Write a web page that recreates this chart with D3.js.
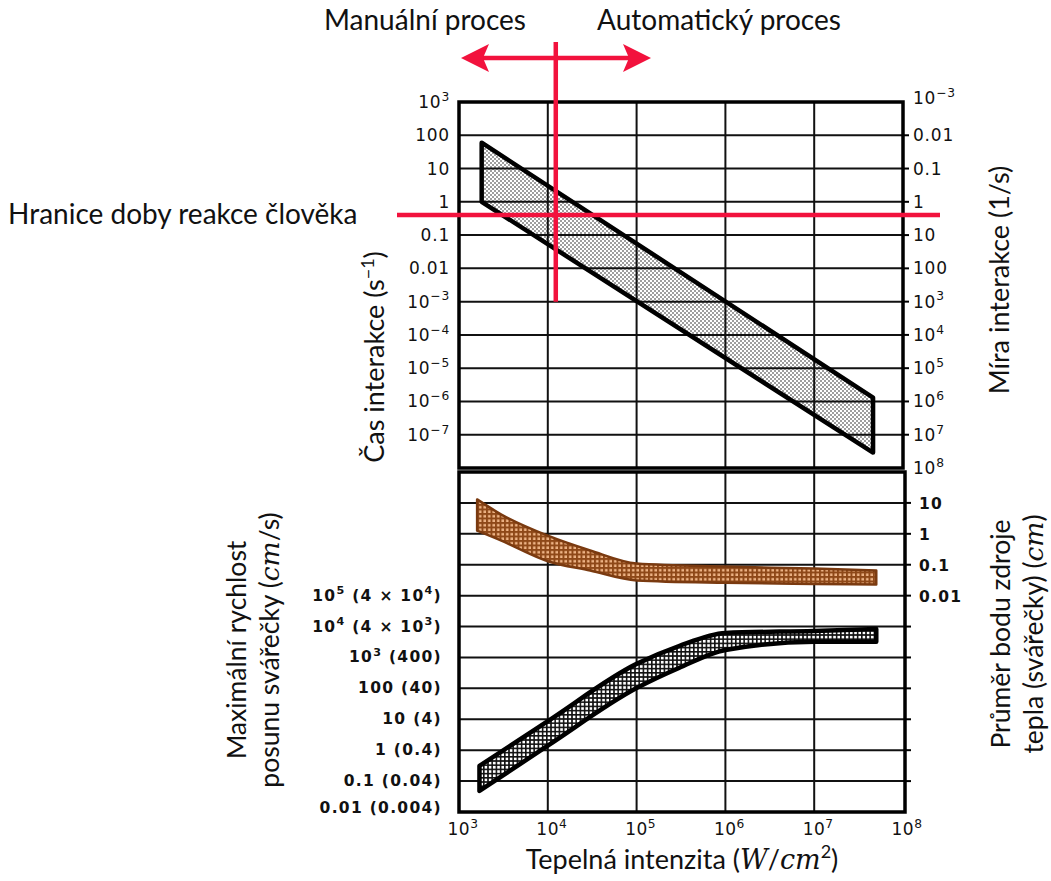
<!DOCTYPE html>
<html>
<head>
<meta charset="utf-8">
<script src="https://cdn.jsdelivr.net/npm/d3@7"></script>
<style>
  body { margin: 0; background: #fff; }
  svg { display: block; }
</style>
</head>
<body>
<svg id="chart" width="1051" height="881"></svg>
<script>
// values
const xDecades = [1e3, 1e4, 1e5, 1e6, 1e7, 1e8];
const xLabels = ["10^3", "10^4", "10^5", "10^6", "10^7", "10^8"];

const topLeftTicks = [1e3, 100, 10, 1, 0.1, 0.01, 1e-3, 1e-4, 1e-5, 1e-6, 1e-7];
const topLeftLabels = ["10^3", "100", "10", "1", "0.1", "0.01", "10^−3", "10^−4", "10^−5", "10^−6", "10^−7"];
const topRightTicks = [1e-3, 0.01, 0.1, 1, 10, 100, 1e3, 1e4, 1e5, 1e6, 1e7, 1e8];
const topRightLabels = ["10^−3", "0.01", "0.1", "1", "10", "100", "10^3", "10^4", "10^5", "10^6", "10^7", "10^8"];

const botLeftTicks = [1e5, 1e4, 1e3, 100, 10, 1, 0.1, 0.01];
const botLeftLabels = ["10^5 (4 × 10^4)", "10^4 (4 × 10^3)", "10^3 (400)", "100 (40)", "10 (4)", "1 (0.4)", "0.1 (0.04)", "0.01 (0.004)"];
const botRightTicks = [10, 1, 0.1, 0.01];
const botRightLabels = ["10", "1", "0.1", "0.01"];

// interaction time band (top panel)
const timeX = [1.8e3, 4.6e7];
const timeUpper = [60, 1.3e-6];
const timeLower = [1, 2.9e-8];

// heat source diameter band (bottom panel, right axis)
const diamX = [1.6e3, 3e3, 1e4, 3e4, 1e5, 1e6, 1e7, 5e7];
const diamUpper = [13, 4.2, 0.87, 0.29, 0.11, 0.087, 0.075, 0.065];
const diamLower = [1.26, 0.6, 0.13, 0.065, 0.031, 0.026, 0.024, 0.023];

// max travel speed band (bottom panel, left axis)
const speedX = [1.7e3, 1e4, 1e5, 3e5, 1e6, 1e7, 5e7];
const speedUpper = [0.31, 8.7, 620, 2340, 6200, 7200, 8300];
const speedLower = [0.048, 1.4, 102, 457, 1740, 3200, 3200];

// red annotations
const manualLimit = 1.23e4;   // W/cm2
const reactionTime = 0.4;     // s

const RED = "#f2123d";
const svg = d3.select("#chart");

const x = d3.scaleLog().domain([1e3, 1e8]).range([459, 903]);
const yTop = d3.scaleLog().domain([1e3, 1e-8]).range([102, 468]);
const yTopR = d3.scaleLog().domain([1e-3, 1e8]).range([102, 468]);
const yBot = d3.scaleLog().domain([1e9, 0.01]).range([472, 812]);
const yBotR = d3.scaleLog().domain([100, 1e-9]).range([472, 812]);

// text with ^superscripts
function richText(sel, str, fs) {
    const parts = str.split(/(\^[−\-]?\d+)/).filter(p => p !== "");
    let up = false;
    parts.forEach(p => {
        if (p[0] === "^") {
            sel.append("tspan").attr("dy", -0.42 * fs).attr("font-size", fs * 0.72).text(p.slice(1));
            up = true;
        } else {
            sel.append("tspan").attr("dy", up ? 0.42 * fs : null).text(p);
            up = false;
        }
    });
}

// patterns
const defs = svg.append("defs");
const dots = defs.append("pattern").attr("id", "dots")
    .attr("patternUnits", "userSpaceOnUse").attr("width", 4).attr("height", 4);
dots.append("rect").attr("width", 4).attr("height", 4).attr("fill", "#fff");
dots.append("circle").attr("cx", 1).attr("cy", 1).attr("r", 0.8).attr("fill", "#222");
dots.append("circle").attr("cx", 3).attr("cy", 3).attr("r", 0.8).attr("fill", "#222");

function hatch(id, bg, fg, w, s) {
    const p = defs.append("pattern").attr("id", id)
        .attr("patternUnits", "userSpaceOnUse").attr("width", s).attr("height", s);
    p.append("rect").attr("width", s).attr("height", s).attr("fill", bg);
    p.append("line").attr("x1", 0).attr("x2", s).attr("y1", w / 2).attr("y2", w / 2).attr("stroke", fg).attr("stroke-width", w);
    p.append("line").attr("y1", 0).attr("y2", s).attr("x1", w / 2).attr("x2", w / 2).attr("stroke", fg).attr("stroke-width", w);
}
hatch("brownHatch", "#eeb486", "#8e4818", 2, 4.5);
hatch("blackHatch", "#fff", "#111", 1.6, 4.2);

function band(xs, up, lo, xs_, ys, curve) {
    const upper = d3.line().curve(curve)(xs.map((v, i) => [xs_(v), ys(up[i])]));
    const lower = d3.line().curve(curve)(xs.map((v, i) => [xs_(v), ys(lo[i])]).reverse());
    // join the two edges with straight vertical ends
    return upper + "L" + lower.slice(1) + "Z";
}

// ---------- top panel ----------
const gTop = svg.append("g");
gTop.append("path")
    .attr("d", band(timeX, timeUpper, timeLower, x, yTop, d3.curveLinear))
    .attr("fill", "url(#dots)");

// grid
const gridTop = gTop.append("g").attr("stroke", "#111").attr("stroke-width", 2);
gridTop.selectAll("line.v").data(xDecades.slice(1, -1)).join("line")
    .attr("x1", d => x(d)).attr("x2", d => x(d)).attr("y1", 102).attr("y2", 468);
gridTop.selectAll("line.h").data(topLeftTicks.slice(1)).join("line")
    .attr("x1", 459).attr("x2", 903).attr("y1", d => yTop(d)).attr("y2", d => yTop(d));

gTop.append("path")
    .attr("d", band(timeX, timeUpper, timeLower, x, yTop, d3.curveLinear))
    .attr("fill", "none").attr("stroke", "#000").attr("stroke-width", 4.5).attr("stroke-linejoin", "round");

gTop.append("rect").attr("x", 459).attr("y", 102).attr("width", 444).attr("height", 366)
    .attr("fill", "none").attr("stroke", "#000").attr("stroke-width", 3.5);

// right axis ticks
gTop.selectAll("line.rt").data(topRightTicks.slice(1, -1)).join("line")
    .attr("x1", 903).attr("x2", 909).attr("y1", d => yTopR(d)).attr("y2", d => yTopR(d))
    .attr("stroke", "#000").attr("stroke-width", 2);

const tickFont = "'DejaVu Sans', sans-serif";
topLeftTicks.forEach((v, i) => {
    const t = svg.append("text").attr("x", 450).attr("y", yTop(v) + 6)
        .attr("text-anchor", "end").attr("font-family", tickFont).attr("font-size", 17)
        .attr("letter-spacing", 0.8).attr("fill", "#111");
    richText(t, topLeftLabels[i], 17);
});
topRightTicks.forEach((v, i) => {
    const t = svg.append("text").attr("x", 913).attr("y", yTopR(v) + (i === 0 ? 2 : 6))
        .attr("font-family", tickFont).attr("font-size", 17).attr("letter-spacing", 0.8).attr("fill", "#111");
    richText(t, topRightLabels[i], 17);
});

// ---------- bottom panel ----------
const gBot = svg.append("g");
const gridBot = gBot.append("g").attr("stroke", "#111").attr("stroke-width", 2);
gridBot.selectAll("line.v").data(xDecades.slice(1, -1)).join("line")
    .attr("x1", d => x(d)).attr("x2", d => x(d)).attr("y1", 472).attr("y2", 812);
gridBot.selectAll("line.h").data(d3.range(-1, 9).map(e => Math.pow(10, e))).join("line")
    .attr("x1", 459).attr("x2", 905).attr("y1", d => yBot(d)).attr("y2", d => yBot(d));

gBot.append("path")
    .attr("d", band(diamX, diamUpper, diamLower, x, yBotR, d3.curveMonotoneX))
    .attr("fill", "url(#brownHatch)").attr("stroke", "#7a3a10").attr("stroke-width", 2.5)
    .attr("stroke-linejoin", "round");
gBot.append("path")
    .attr("d", band(speedX, speedUpper, speedLower, x, yBot, d3.curveMonotoneX))
    .attr("fill", "url(#blackHatch)").attr("stroke", "#000").attr("stroke-width", 4.5)
    .attr("stroke-linejoin", "round");

gBot.append("rect").attr("x", 459).attr("y", 472).attr("width", 446).attr("height", 340)
    .attr("fill", "none").attr("stroke", "#000").attr("stroke-width", 3.5);
gBot.selectAll("line.rt").data(d3.range(-8, 2).map(e => Math.pow(10, e))).join("line")
    .attr("x1", 905).attr("x2", 911).attr("y1", d => yBotR(d)).attr("y2", d => yBotR(d))
    .attr("stroke", "#000").attr("stroke-width", 2);

botLeftTicks.forEach((v, i) => {
    const t = svg.append("text").attr("x", 442).attr("y", yBot(v) + 5 - (i === botLeftTicks.length - 1 ? 4 : 0))
        .attr("text-anchor", "end").attr("font-family", tickFont).attr("font-size", 15.5)
        .attr("font-weight", "bold").attr("letter-spacing", 1.3).attr("fill", "#111");
    richText(t, botLeftLabels[i], 15.5);
});
botRightTicks.forEach((v, i) => {
    const t = svg.append("text").attr("x", 919).attr("y", yBotR(v) + 6)
        .attr("font-family", tickFont).attr("font-size", 15.5).attr("font-weight", "bold")
        .attr("letter-spacing", 1.3).attr("fill", "#111");
    richText(t, botRightLabels[i], 15.5);
});
xDecades.forEach((v, i) => {
    const t = svg.append("text").attr("x", x(v) + 4).attr("y", 835)
        .attr("text-anchor", "middle").attr("font-family", tickFont).attr("font-size", 17)
        .attr("letter-spacing", 0.5).attr("fill", "#111");
    richText(t, xLabels[i], 17);
});

// ---------- titles ----------
const titleFont = "Lato, 'Open Sans', sans-serif";
function vTitle(cx, cy, lines, fs) {
    const g = svg.append("g").attr("transform", `translate(${cx},${cy}) rotate(-90)`);
    return lines.map((ln, i) => g.append("text").attr("x", 0).attr("y", i * fs * 1.25)
        .attr("text-anchor", "middle").attr("font-family", titleFont).attr("font-size", fs).attr("fill", "#111"));
}

let t = vTitle(384, 357, [0], 27)[0];
t.append("tspan").text("Čas interakce (s");
t.append("tspan").attr("dy", -10).attr("font-size", 18).text("−1");
t.append("tspan").attr("dy", 10).text(")");

t = vTitle(1009, 280, [0], 27)[0];
t.text("Míra interakce (1/s)");

let ts = vTitle(246, 650, [0, 1], 26.5);
ts[0].text("Maximální rychlost");
ts[1].append("tspan").text("posunu svářečky (");
ts[1].append("tspan").attr("font-style", "italic").attr("font-family", "'DejaVu Serif', serif").text("cm");
ts[1].append("tspan").text("/s)");

ts = vTitle(1010, 634, [0, 1], 26.5);
ts[0].text("Průměr bodu zdroje");
ts[1].append("tspan").text("tepla (svářečky) (");
ts[1].append("tspan").attr("font-style", "italic").attr("font-family", "'DejaVu Serif', serif").text("cm");
ts[1].append("tspan").text(")");

t = svg.append("text").attr("x", 682).attr("y", 869).attr("text-anchor", "middle")
    .attr("font-family", titleFont).attr("font-size", 27).attr("fill", "#111");
t.append("tspan").text("Tepelná intenzita (");
t.append("tspan").attr("font-style", "italic").attr("font-family", "'DejaVu Serif', serif").text("W");
t.append("tspan").text("/");
t.append("tspan").attr("font-style", "italic").attr("font-family", "'DejaVu Serif', serif").text("cm");
t.append("tspan").attr("dy", -11).attr("font-size", 18).text("2");
t.append("tspan").attr("dy", 11).text(")");

// ---------- red annotations ----------
const red = svg.append("g").attr("stroke", RED).attr("stroke-width", 4.5);
red.append("line").attr("x1", x(manualLimit)).attr("x2", x(manualLimit)).attr("y1", 42).attr("y2", yTop(1e-3));
red.append("line").attr("x1", 397).attr("x2", 940).attr("y1", yTop(reactionTime)).attr("y2", yTop(reactionTime));
red.append("line").attr("x1", 478).attr("x2", 634).attr("y1", 58).attr("y2", 58);
svg.append("path").attr("d", "M461,58 L489,44 L483,58 L489,72 Z").attr("fill", RED);
svg.append("path").attr("d", "M651,58 L623,44 L629,58 L623,72 Z").attr("fill", RED);

svg.append("text").attr("x", 425).attr("y", 30).attr("text-anchor", "middle")
    .attr("font-family", titleFont).attr("font-size", 28).attr("fill", "#111").text("Manuální proces");
svg.append("text").attr("x", 719).attr("y", 30).attr("text-anchor", "middle")
    .attr("font-family", titleFont).attr("font-size", 28).attr("fill", "#111").text("Automatický proces");
svg.append("text").attr("x", 8).attr("y", 224)
    .attr("font-family", titleFont).attr("font-size", 28).attr("fill", "#111").text("Hranice doby reakce člověka");
</script>
</body>
</html>
